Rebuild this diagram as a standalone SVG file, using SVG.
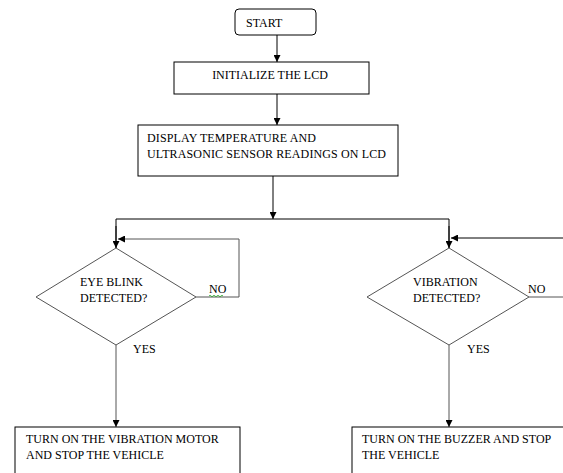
<svg xmlns="http://www.w3.org/2000/svg" width="563" height="473" viewBox="0 0 563 473">
<defs>
<style>
.t{font-family:'Liberation Serif','Times New Roman','DejaVu Serif',Times,serif;font-size:12px;fill:#000}
.box{fill:#fff;stroke:#000;stroke-width:1}
.dia{fill:#fff;stroke:#555;stroke-width:1}
.ln{fill:none;stroke:#000;stroke-width:1}
.gl{fill:none;stroke:#555;stroke-width:1}
</style>
<marker id="ah" viewBox="0 0 10 10" refX="10" refY="5" markerWidth="7" markerHeight="7" orient="auto" markerUnits="userSpaceOnUse">
<path d="M0,0 L10,5 L0,10 z" fill="#000"/>
</marker>
</defs>
<rect width="563" height="473" fill="#fff"/>
<g id="connectors">
<line class="ln" x1="277" y1="35" x2="277" y2="62" marker-end="url(#ah)"/>
<line class="ln" x1="277" y1="94" x2="277" y2="125" marker-end="url(#ah)"/>
<line class="ln" x1="273" y1="176" x2="273" y2="219" marker-end="url(#ah)"/>
<polyline class="ln" points="116,248 116,219 449,219 449,248"/>
<line class="ln" x1="116" y1="226" x2="116" y2="248" marker-end="url(#ah)"/>
<line class="ln" x1="449" y1="226" x2="449" y2="248" marker-end="url(#ah)"/>
<polyline class="gl" points="196,297 239,297 239,239 118,239" marker-end="url(#ah)"/>
<polyline class="gl" points="529,297 563,297"/>
<polyline class="ln" points="563,238 451,238" marker-end="url(#ah)"/>
<line class="gl" x1="116" y1="345" x2="116" y2="427" marker-end="url(#ah)"/>
<line class="gl" x1="449" y1="345" x2="449" y2="427" marker-end="url(#ah)"/>
</g>
<g id="start">
<rect class="box" x="235" y="9" width="81" height="26" rx="4"/>
<text class="t" x="246" y="27">START</text>
</g>
<g id="init">
<rect class="box" x="174" y="62" width="195" height="32"/>
<text class="t" x="270" y="79" text-anchor="middle">INITIALIZE THE LCD</text>
</g>
<g id="display">
<rect class="box" x="138" y="125" width="260" height="51"/>
<text class="t" x="147" y="142" textLength="169" lengthAdjust="spacing">DISPLAY TEMPERATURE AND</text>
<text class="t" x="147" y="158" textLength="239" lengthAdjust="spacing">ULTRASONIC SENSOR READINGS ON LCD</text>
</g>
<g id="eyeblink">
<polygon class="dia" points="116,248 196,297 116,345 36,297"/>
<text class="t" x="80" y="286">EYE BLINK</text>
<text class="t" x="80" y="302">DETECTED?</text>
<text class="t" x="209" y="293">NO</text>
<path d="M209,296 q1,-1.5 2,0 t2,0 t2,0 t2,0 t2,0 t2,0 t2,0" fill="none" stroke="#2a2" stroke-width="0.8"/>
<text class="t" x="133" y="353">YES</text>
</g>
<g id="vibration">
<polygon class="dia" points="449,248 529,297 449,345 367,297"/>
<text class="t" x="413" y="286">VIBRATION</text>
<text class="t" x="413" y="302">DETECTED?</text>
<text class="t" x="528" y="293">NO</text>
<text class="t" x="467" y="353">YES</text>
</g>
<g id="motor">
<rect class="box" x="15" y="427" width="225" height="60"/>
<text class="t" x="26" y="443">TURN ON THE VIBRATION MOTOR</text>
<text class="t" x="26" y="459">AND STOP THE VEHICLE</text>
</g>
<g id="buzzer">
<rect class="box" x="352" y="427" width="230" height="60"/>
<text class="t" x="362" y="443">TURN ON THE BUZZER AND STOP</text>
<text class="t" x="362" y="459">THE VEHICLE</text>
</g>
</svg>
